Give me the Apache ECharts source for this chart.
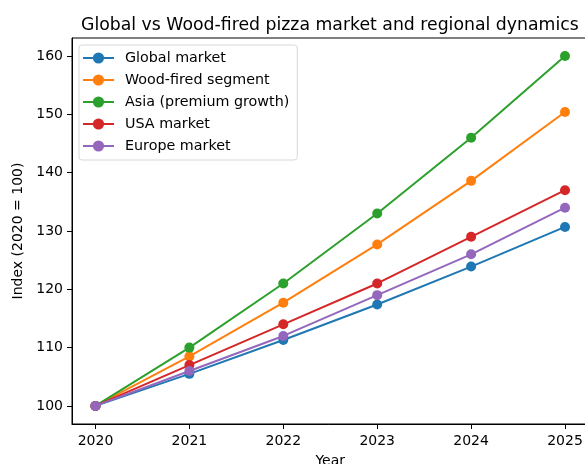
<!DOCTYPE html>
<html><head><meta charset="utf-8">
<script src="https://cdn.jsdelivr.net/npm/echarts@6/dist/echarts.min.js"></script>
<style>html,body{margin:0;padding:0;background:#fff}#c{width:585px;height:464px}</style>
</head><body><div id="c"></div>
<script>
const years = [2020, 2021, 2022, 2023, 2024, 2025];
const yTicks = [100, 110, 120, 130, 140, 150, 160];
const seriesNames = ['Global market', 'Wood-fired segment', 'Asia (premium growth)', 'USA market', 'Europe market'];
const globalMarket = [100, 105.5, 111.3, 117.4, 123.9, 130.7];
const woodFired = [100, 108.5, 117.7, 127.7, 138.6, 150.4];
const asia = [100, 110, 121, 133, 146, 160];
const usa = [100, 107, 114, 121, 129, 137];
const europe = [100, 106, 112, 119, 126, 134];
const colors = ['#1f77b4', '#ff7f0e', '#2ca02c', '#d62728', '#9467bd'];

const allData = [globalMarket, woodFired, asia, usa, europe];
const font = 'DejaVu Sans';
const chart = echarts.init(document.getElementById('c'), null, {renderer: 'canvas'});
chart.setOption({
  animation: false,
  title: {
    text: 'Global vs Wood-fired pizza market and regional dynamics',
    left: 76, top: 12,
    textStyle: {fontFamily: font, fontSize: 17.3, fontWeight: 'normal', color: '#000'}
  },
  grid: {left: 72, right: -3.5, top: 38, bottom: 40, outerBoundsMode: 'none', containLabel: false,
    show: true, borderColor: '#000', borderWidth: 1, backgroundColor: 'transparent'},
  legend: {
    orient: 'vertical', left: 79, top: 45,
    data: seriesNames,
    itemWidth: 31, itemHeight: 14, itemGap: 8,
    padding: [6, 8, 7, 3],
    backgroundColor: '#fff', borderColor: '#d8d8d8', borderWidth: 1, borderRadius: 3,
    textStyle: {fontFamily: font, fontSize: 14.3, color: '#000', padding: [0, 0, 0, 6]}
  },
  xAxis: {
    type: 'value', min: 2019.75, max: 2025.25,
    name: 'Year', nameLocation: 'middle', nameGap: 30,
    nameTextStyle: {fontFamily: font, fontSize: 14, color: '#000'},
    axisLine: {show: true, lineStyle: {color: '#000'}},
    axisTick: {show: true, length: 5, lineStyle: {color: '#000'}, customValues: years},
    axisLabel: {fontFamily: font, fontSize: 14, color: '#000', margin: 10, customValues: years, formatter: v => String(v)},
    splitLine: {show: false}
  },
  yAxis: {
    type: 'value', min: 96.9, max: 163.1,
    name: 'Index (2020 = 100)', nameLocation: 'middle', nameGap: 46,
    nameTextStyle: {fontFamily: font, fontSize: 14, color: '#000'},
    axisLine: {show: true, lineStyle: {color: '#000'}},
    axisTick: {show: true, length: 5, lineStyle: {color: '#000'}, customValues: yTicks},
    axisLabel: {fontFamily: font, fontSize: 14, color: '#000', margin: 9, customValues: yTicks, formatter: v => String(v)},
    splitLine: {show: false}
  },
  series: seriesNames.map((n, i) => ({
    name: n, type: 'line',
    data: years.map((y, j) => [y, allData[i][j]]),
    symbol: 'circle', symbolSize: 10,
    lineStyle: {width: 2, color: colors[i]},
    itemStyle: {color: colors[i]},
    z: 2 + i
  }))
});
</script></body></html>
